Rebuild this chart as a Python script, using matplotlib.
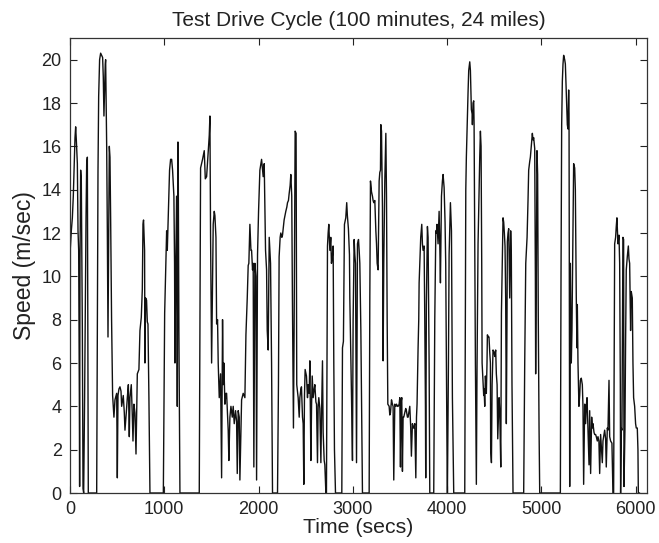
import matplotlib
matplotlib.use("Agg")
import matplotlib.pyplot as plt

plt.rcParams['font.family'] = ['Liberation Sans', 'DejaVu Sans']

title = "Test Drive Cycle (100 minutes, 24 miles)"
x_label = "Time (secs)"
y_label = "Speed (m/sec)"
x_ticks = [0, 1000, 2000, 3000, 4000, 5000, 6000]
y_ticks = [0, 2, 4, 6, 8, 10, 12, 14, 16, 18, 20]

time_s = [
    0, 2, 4, 14, 25, 35, 42, 53, 60, 67, 78, 85, 92, 99, 102, 106, 113, 120, 127, 131,
    138, 145, 155, 170, 177, 184, 187, 194,
    283, 290, 297, 304, 314, 325, 336, 346, 353, 360, 367, 374, 378, 382, 389, 396,
    403, 410, 417, 424, 431, 441, 452, 459, 466, 477, 495, 502, 509, 519, 530, 541,
    548, 558, 565, 576, 583, 597, 608, 619, 629, 636, 650, 660, 668, 678, 689, 700,
    714, 731, 742, 756, 767, 774, 780, 784, 791, 795, 802, 812, 820, 827, 837, 848,
    990, 1004, 1025, 1032, 1042, 1056, 1067, 1078, 1088, 1102, 1109, 1113, 1120,
    1131, 1138, 1145, 1148, 1155, 1166,
    1371, 1385, 1406, 1424, 1435, 1449, 1466, 1477, 1484, 1491, 1502, 1512, 1519,
    1530, 1537, 1548, 1555, 1565, 1572, 1583, 1597, 1608, 1618, 1625, 1632, 1643,
    1654, 1661, 1671, 1678, 1685, 1696, 1707, 1721, 1731, 1742, 1756, 1767, 1774,
    1784, 1795, 1802, 1813, 1820, 1837, 1855, 1866, 1880, 1890, 1897, 1908, 1919,
    1926, 1936, 1943, 1950, 1961, 1972, 1979, 1989, 2000, 2014, 2032, 2049, 2060,
    2074, 2085, 2092, 2102, 2113, 2127, 2138, 2148,
    2201, 2211, 2218, 2229, 2236, 2247, 2254, 2271, 2289, 2300, 2307, 2317, 2324,
    2335, 2342, 2352, 2359, 2370, 2377, 2384, 2388, 2398, 2405, 2420, 2431, 2438,
    2449, 2455, 2466, 2473, 2480, 2487, 2494, 2508, 2519, 2526, 2537, 2544, 2555,
    2562, 2569, 2579, 2590, 2597, 2608, 2615, 2625, 2632, 2639, 2650, 2661, 2668,
    2678, 2685, 2696, 2703, 2714,
    2720, 2731, 2738, 2745, 2756, 2766, 2773, 2784, 2791, 2798, 2805, 2816,
    2883, 2890, 2900, 2911, 2925, 2935, 2942, 2953, 2964, 2968, 2986, 2996, 3003,
    3014, 3021, 3028, 3039, 3049, 3060, 3067, 3074, 3085, 3095, 3102,
    3173, 3180, 3187, 3198, 3208, 3215, 3222, 3233, 3244, 3251, 3258, 3268, 3279,
    3286, 3293, 3297, 3304, 3314, 3321, 3328, 3339, 3350, 3357, 3364, 3371, 3385,
    3392, 3399, 3410, 3420, 3427, 3434, 3445, 3456, 3463, 3473, 3480, 3491, 3498,
    3505, 3512, 3519, 3526, 3533, 3540, 3551, 3561, 3568, 3579, 3586, 3597, 3604,
    3614, 3621, 3632, 3639, 3646, 3657, 3668, 3675, 3681, 3692, 3699, 3703, 3710,
    3720, 3731, 3738, 3745, 3756, 3763, 3770, 3773, 3780, 3791, 3798, 3805, 3809, 3816,
    3858, 3869, 3880, 3886, 3893, 3904, 3915, 3922, 3929, 3940, 3950, 3957, 3968,
    3978, 3985, 3992, 3999, 4003, 4014, 4021, 4035, 4046, 4056, 4070,
    4187, 4198, 4204, 4211, 4222, 4229, 4240, 4247, 4250, 4257, 4265, 4268, 4275,
    4282, 4286, 4293, 4300, 4310, 4317, 4328, 4339, 4346, 4353, 4360, 4367, 4371,
    4381, 4388, 4392, 4399, 4406, 4416, 4423, 4427, 4438, 4444, 4452, 4459, 4462,
    4470, 4477, 4487, 4498, 4505, 4515, 4522, 4530, 4537, 4544, 4551, 4558, 4569,
    4576, 4586, 4593, 4600, 4607, 4614, 4621, 4628, 4635, 4639, 4646, 4653, 4664,
    4674, 4681, 4688, 4699,
    4812, 4823, 4834, 4848, 4858, 4865, 4876, 4883, 4893, 4904, 4911, 4918, 4929,
    4936, 4939, 4946, 4953, 4960, 4967, 4975, 4982,
    5201, 5208, 5215, 5222, 5229, 5236, 5247, 5254, 5264, 5275, 5282, 5289, 5293,
    5300, 5307, 5317, 5324, 5335, 5342, 5353, 5360, 5370, 5377, 5381, 5388, 5398,
    5406, 5413, 5423, 5434, 5441, 5448, 5459, 5469, 5476, 5484, 5494, 5505, 5512,
    5522, 5533, 5540, 5547, 5558, 5565, 5575, 5582, 5593, 5600, 5610, 5618, 5628,
    5635, 5646, 5653, 5664, 5671, 5681, 5688, 5699, 5706, 5717, 5724, 5734, 5748,
    5759, 5766, 5777, 5787, 5794, 5801, 5812, 5823, 5830, 5837, 5840, 5848, 5854,
    5865, 5872, 5876, 5886, 5893, 5900, 5911, 5922, 5929, 5936, 5946, 5953, 5964,
    5971, 5978, 5989, 5999, 6006, 6017, 6024, 6028, 6040,
]

speed_mps = [
    0, 2.7, 11.3, 12.1, 12.7, 13.7, 14.8, 16.4, 16.9, 16.3, 15.2, 12.1, 11.2, 4.5, 0.3, 10.8, 14.9, 14.4, 10.0, 7.5,
    0.2, 0, 4.4, 12.7, 15.2, 15.5, 10.6, 0,
    0, 7.0, 14.9, 18.3, 20.0, 20.3, 20.2, 20.1, 19.2, 17.4, 18.7, 19.8, 20.0, 18.6, 16.0, 12.1,
    7.2, 12.0, 16.0, 15.5, 12.7, 8.0, 4.5, 4.0, 3.5, 4.3, 4.6, 0.7, 4.5, 4.8, 4.9, 4.7,
    4.0, 4.3, 4.5, 3.7, 2.9, 3.7, 4.4, 5.0, 2.6, 4.4, 5.0, 3.7, 2.4, 4.1, 3.7, 1.8,
    5.5, 5.7, 7.5, 8.1, 9.4, 12.4, 12.6, 12.1, 11.2, 6.0, 9.0, 8.9, 7.9, 7.8, 4.4, 0,
    0, 8.3, 12.1, 11.2, 12.7, 14.9, 15.4, 15.4, 14.9, 13.7, 10.6, 6.0, 9.8,
    13.7, 4.0, 16.2, 15.2, 7.5, 0,
    0, 15.0, 15.4, 15.8, 14.5, 14.6, 15.8, 16.5, 17.4, 11.8, 6.0, 10.0, 12.4,
    13.0, 12.8, 11.8, 7.8, 8.0, 6.0, 4.4, 5.5, 0.7, 8.0, 5.0, 6.0, 4.1,
    4.6, 4.6, 3.6, 2.9, 1.5, 3.5, 4.0, 3.5, 4.0, 3.2, 3.8, 3.3, 0.9,
    3.8, 3.5, 0.6, 3.0, 4.3, 4.6, 4.4, 7.3, 9.0, 10.5, 10.6, 12.4, 11.2,
    11.2, 10.3, 10.6, 1.2, 10.6, 10.0, 0.6, 11.0, 13.0, 14.9, 15.4, 14.6, 15.2,
    11.2, 10.3, 7.5, 6.6, 11.8, 10.6, 6.0, 0,
    0, 5.0, 10.9, 11.8, 12.0, 11.8, 11.9, 12.6, 13.0, 13.2, 13.4, 13.5, 13.8,
    14.2, 14.7, 13.7, 9.0, 3.0, 7.5, 13.0, 16.7, 16.6, 5.0, 4.4, 3.5, 4.4,
    4.8, 4.9, 3.5, 3.2, 0.4, 4.5, 5.7, 5.4, 4.4, 5.0, 4.6, 6.1, 1.5,
    4.0, 5.4, 4.4, 4.8, 5.0, 4.2, 4.1, 1.4, 4.0, 4.4, 3.9, 1.4, 3.6,
    6.1, 2.8, 1.5, 1.3, 0,
    0, 11.4, 12.0, 12.4, 11.2, 11.8, 10.6, 11.0, 11.4, 6.0, 2.0, 0,
    0, 6.7, 7.0, 12.4, 12.7, 13.4, 12.8, 12.2, 11.0, 9.0, 4.4, 1.5, 8.0,
    11.7, 11.0, 10.6, 1.4, 11.5, 11.7, 11.2, 10.6, 7.5, 3.0, 0,
    0, 9.0, 14.4, 13.9, 13.7, 13.5, 13.4, 13.5, 12.1, 11.5, 10.6, 10.3, 14.4,
    14.8, 14.9, 17.0, 16.7, 13.2, 6.1, 10.6, 14.4, 16.6, 13.7, 8.0, 4.1, 4.0,
    3.6, 3.7, 4.3, 4.1, 4.0, 0.6, 4.1, 4.0, 4.1, 4.0, 4.0, 4.1, 4.4,
    1.2, 4.2, 4.4, 1.0, 3.5, 3.5, 3.7, 3.9, 3.8, 3.5, 3.5, 3.8, 4.0,
    3.0, 1.7, 3.2, 3.0, 3.0, 3.2, 0.7, 3.5, 4.1, 6.7, 8.0, 9.7, 10.6,
    11.8, 12.4, 11.5, 11.2, 11.4, 8.0, 4.0, 0.7, 8.7, 12.3, 11.8, 8.0, 6.0, 0,
    0, 8.0, 12.1, 12.0, 12.4, 11.5, 13.0, 11.5, 9.7, 13.7, 14.4, 14.7, 14.1,
    12.5, 10.6, 6.0, 1.8, 0, 6.0, 11.0, 13.4, 12.1, 4.4, 0,
    0, 14.0, 15.5, 16.7, 18.5, 19.5, 19.9, 19.5, 19.0, 17.7, 17.5, 17.0, 18.0,
    18.1, 17.0, 11.4, 6.0, 0.4, 5.7, 11.5, 14.0, 15.5, 16.7, 16.0, 10.6, 6.0,
    5.1, 4.5, 4.8, 4.0, 5.4, 4.6, 6.0, 7.3, 7.2, 7.2, 6.5, 6.0, 2.0,
    1.4, 5.0, 6.6, 6.5, 6.3, 6.6, 5.5, 5.0, 2.5, 3.5, 4.4, 3.8, 1.2,
    8.3, 11.0, 12.7, 12.5, 12.0, 11.4, 9.0, 3.2, 8.0, 11.6, 12.0, 12.2, 9.0,
    12.1, 11.0, 5.0, 0,
    0, 6.0, 10.6, 11.8, 13.5, 14.9, 15.3, 15.5, 16.0, 16.6, 16.3, 16.4, 15.9,
    10.0, 5.5, 10.0, 15.8, 14.7, 8.0, 3.0, 0,
    0, 10.0, 17.0, 19.0, 19.8, 20.2, 20.0, 19.8, 18.5, 17.0, 16.8, 18.6, 17.5,
    0.3, 10.6, 6.0, 7.5, 12.1, 15.2, 15.0, 14.0, 9.0, 6.7, 8.7, 6.0, 4.0,
    4.5, 5.2, 5.3, 5.0, 4.0, 0.4, 4.1, 3.2, 4.0, 4.4, 2.9, 1.3, 3.8,
    0.9, 3.5, 3.0, 3.2, 2.8, 2.7, 2.7, 2.6, 2.4, 2.6, 2.4, 0.9, 2.7,
    2.2, 1.4, 2.4, 2.7, 2.9, 2.5, 1.2, 3.0, 2.9, 5.2, 2.6, 2.4, 2.3,
    0, 0, 11.5, 11.8, 12.3, 12.7, 11.5, 11.9, 10.6, 5.0, 0, 3.0, 2.9,
    11.8, 11.7, 0.3, 2.9, 7.0, 10.3, 10.9, 11.4, 10.8, 10.6, 7.5, 9.3, 9.0,
    6.0, 4.4, 4.0, 3.2, 3.0, 3.0, 2.0, 0, 0,
]

fig = plt.figure(figsize=(6.59, 5.43), dpi=100)
ax = fig.add_axes([70 / 659, 50 / 543, 577 / 659, 455 / 543])
ax.plot(time_s, speed_mps, color='#111111', linewidth=1.0)

ax.set_xlim(0, 6120)
ax.set_ylim(0, 21)
ax.set_xticks(x_ticks)
ax.set_yticks(y_ticks)
ax.tick_params(direction='in', length=5, width=0.8, top=True, right=True,
               labelsize=13, pad=6, colors='#222222')
for s in ax.spines.values():
    s.set_linewidth(0.9)
    s.set_color('#333333')
ax.set_title(title, fontsize=15, pad=9, color='#222222')
ax.set_xlabel(x_label, fontsize=15.3, labelpad=0, color='#222222')
ax.set_ylabel(y_label, fontsize=16.5, labelpad=4, color='#222222')

fig.savefig('out.png', dpi=100)
